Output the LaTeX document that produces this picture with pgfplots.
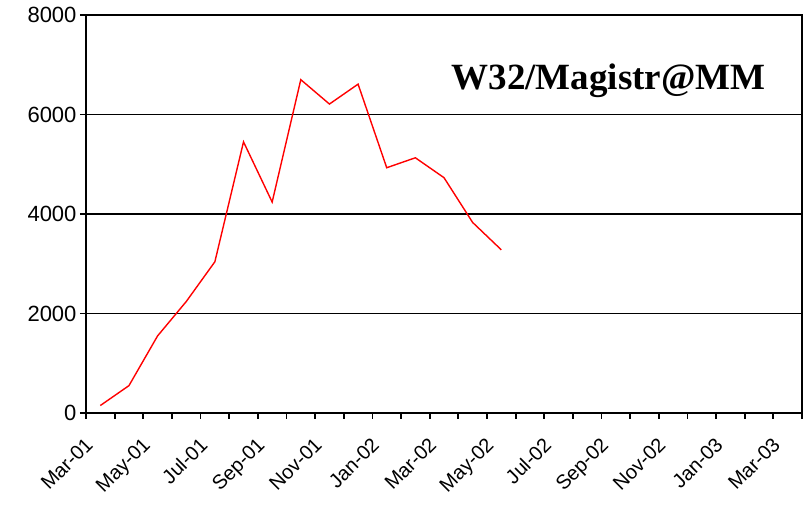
\documentclass[border=0pt]{standalone}
\usepackage{pgfplots}
\pgfplotsset{compat=1.18}
\usepackage{fontspec}
\setmainfont{Liberation Sans}
\newfontfamily\titlefont{Liberation Serif}

\begin{document}
\begin{tikzpicture}
\useasboundingbox (-86pt,-95pt) rectangle (723pt,413pt);
\begin{axis}[
  at={(0pt,0pt)}, anchor=south west,
  scale only axis, width=716pt, height=398pt,
  xmin=-0.5, xmax=24.5, ymin=0, ymax=8000,
  axis line style={line width=1.8pt},
  ytick={0,2000,4000,6000,8000},
  ymajorgrids,
  major grid style={black, line width=1.8pt},
  tick align=outside,
  major tick length=6pt,
  minor tick length=6pt,
  tick style={black, line width=1.8pt},
  xtick pos=lower, ytick pos=left,
  % month boundaries: labelled every second month, plain ticks in between
  xtick={-0.5,1.5,...,23.5},
  minor xtick={0.5,2.5,...,24.5},
  xticklabels={Mar-01,May-01,Jul-01,Sep-01,Nov-01,Jan-02,Mar-02,May-02,Jul-02,Sep-02,Nov-02,Jan-03,Mar-03},
  xticklabel style={xshift=-2pt, yshift=-17pt, rotate=45, anchor=north east,
    inner sep=0pt, font=\fontsize{20}{20}\selectfont},
  yticklabel style={font=\fontsize{22}{22}\selectfont},
  /pgf/number format/assume math mode=true,
  /pgf/number format/set thousands separator={},
  scaled y ticks=false,
]
\addplot[red, line width=1.4pt] coordinates {
  (0,150) (1,550) (2,1550) (3,2240) (4,3040) (5,5450) (6,4240) (7,6700)
  (8,6210) (9,6610) (10,4930) (11,5130) (12,4730) (13,3830) (14,3280)
};
\node[anchor=base west, font=\titlefont\bfseries\fontsize{37}{37}\selectfont]
  at (rel axis cs:0.5056,0.814) {W32/Magistr@MM};
\end{axis}
\end{tikzpicture}
\end{document}
